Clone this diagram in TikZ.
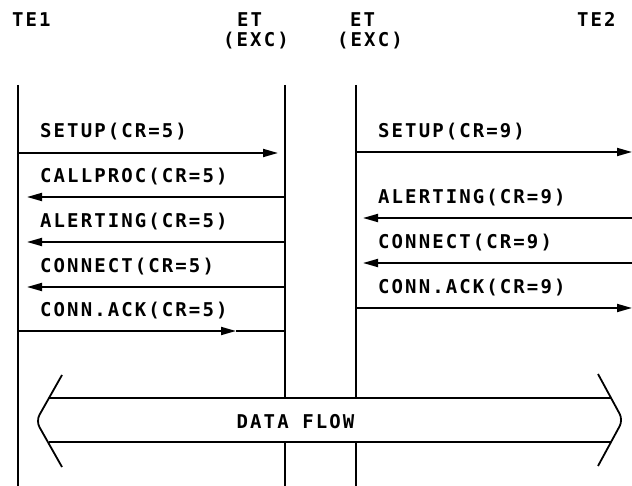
\documentclass[tikz,border=0pt]{standalone}
\usepackage{fontspec}
\newfontfamily\plotfont{DejaVu Sans Mono}[LetterSpace=11]
\usetikzlibrary{arrows.meta}

\begin{document}
\begin{tikzpicture}[x=1pt,y=-1pt,
  lifeline/.style={line width=1.8pt},
  msg/.style={line width=1.8pt,-{Triangle[length=15pt,width=8pt]}},
  plainmsg/.style={line width=1.8pt},
  lbl/.style={anchor=base west,inner sep=0pt,
    font=\plotfont\bfseries\fontsize{19}{22}\selectfont},
  bandline/.style={line width=2.6pt},
  bandhead/.style={line width=1.8pt,rounded corners=7pt}]
\useasboundingbox (0,0) rectangle (632,486);

% headers
\node[lbl] (te1) at (12,27) {TE1};
\node[lbl] (et1) at (237,27) {ET};
\node[lbl] (exc1) at (223,47) {(EXC)};
\node[lbl] (et2) at (350,27) {ET};
\node[lbl] (exc2) at (337,47) {(EXC)};
\node[lbl] (te2) at (577,27) {TE2};

% lifelines
\coordinate (A top) at (18,85);  \coordinate (A bot) at (18,486);
\coordinate (B top) at (285,85); \coordinate (B bot) at (285,486);
\coordinate (C top) at (356,85); \coordinate (C bot) at (356,486);
\draw[lifeline] (A top) -- (A bot);
\draw[lifeline] (B top) -- (B bot);
\draw[lifeline] (C top) -- (C bot);

% TE1 <-> ET messages
\coordinate (m1a) at (18,153);  \coordinate (m1b) at (278,153);
\coordinate (m2a) at (285,197); \coordinate (m2b) at (27,197);
\coordinate (m3a) at (285,242); \coordinate (m3b) at (27,242);
\coordinate (m4a) at (285,287); \coordinate (m4b) at (27,287);
\coordinate (m5a) at (18,331);  \coordinate (m5m) at (236,331); \coordinate (m5b) at (285,331);
\draw[msg] (m1a) -- (m1b);
\draw[msg] (m2a) -- (m2b);
\draw[msg] (m3a) -- (m3b);
\draw[msg] (m4a) -- (m4b);
\draw[msg] (m5a) -- (m5m);
\draw[plainmsg] (m5m) -- (m5b);
\node[lbl] (l1) at (40,138) {SETUP(CR=5)};
\node[lbl] (l2) at (40,183) {CALLPROC(CR=5)};
\node[lbl] (l3) at (40,228) {ALERTING(CR=5)};
\node[lbl] (l4) at (40,273) {CONNECT(CR=5)};
\node[lbl] (l5) at (40,317) {CONN.ACK(CR=5)};

% ET <-> TE2 messages
\coordinate (n1a) at (356,152); \coordinate (n1b) at (632,152);
\coordinate (n2a) at (632,218); \coordinate (n2b) at (363,218);
\coordinate (n3a) at (632,263); \coordinate (n3b) at (363,263);
\coordinate (n4a) at (356,308); \coordinate (n4b) at (632,308);
\draw[msg] (n1a) -- (n1b);
\draw[msg] (n2a) -- (n2b);
\draw[msg] (n3a) -- (n3b);
\draw[msg] (n4a) -- (n4b);
\node[lbl] (r1) at (378,138) {SETUP(CR=9)};
\node[lbl] (r2) at (378,204) {ALERTING(CR=9)};
\node[lbl] (r3) at (378,249) {CONNECT(CR=9)};
\node[lbl] (r4) at (378,294) {CONN.ACK(CR=9)};

% data flow band
\fill[white] (49,398) -- (611,398) -- (623,420) -- (611,442) -- (49,442) -- (36,420) -- cycle;
\draw[bandline] (49,398) -- (611,398);
\draw[bandline] (49,442) -- (611,442);
\draw[bandhead] (62,375) -- (36,421) -- (62,467);
\draw[bandhead] (598,374) -- (623,420) -- (598,466);
\node[lbl,anchor=base] (df) at (295.5,428) {DATA FLOW};
\end{tikzpicture}
\end{document}
